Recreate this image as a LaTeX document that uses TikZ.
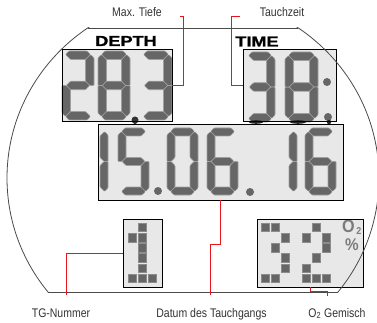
\documentclass[tikz,border=0pt]{standalone}
\usepackage{fontspec}
\setmainfont{Liberation Sans}
\newfontfamily\lblfont{Liberation Sans}[FakeStretch=0.84]
\newfontfamily\hdfont{Liberation Sans}[FakeStretch=1.25,BoldFeatures={FakeBold=1.2}]
\newfontfamily\oxfont{Liberation Sans}[FakeStretch=0.9]
\definecolor{lcdbg}{HTML}{E8E8E8}
\definecolor{segc}{HTML}{666666}
\definecolor{sepc}{HTML}{A0A0A0}
\definecolor{leader}{HTML}{E8141B}
\definecolor{outl}{HTML}{4A4A4A}
\definecolor{o2gray}{HTML}{7C7C7C}
\def\segT{8.5}\def\segC{7}
\newcommand\sga{\path[seg] ({\segC},0) -- ({\segW-\segC},0) -- ({\segW-\segC/2},{\segC/2}) -- ({\segW-\segT},{\segT}) -- ({\segT},{\segT}) -- ({\segC/2},{\segC/2}) -- cycle;}
\newcommand\sgb{\path[seg] ({\segW-\segC/2},{\segC/2}) -- ({\segW},{\segC}) -- ({\segW},{\segM}) -- ({\segW-\segT/2},{\segM}) -- ({\segW-\segT},{\segM-\segT/2}) -- ({\segW-\segT},{\segT}) -- cycle;}
\newcommand\sgc{\path[seg] ({\segW},{\segM}) -- ({\segW},{\segH-\segC}) -- ({\segW-\segC/2},{\segH-\segC/2}) -- ({\segW-\segT},{\segH-\segT}) -- ({\segW-\segT},{\segM+\segT/2}) -- ({\segW-\segT/2},{\segM}) -- cycle;}
\newcommand\sgd{\path[seg] ({\segC/2},{\segH-\segC/2}) -- ({\segT},{\segH-\segT}) -- ({\segW-\segT},{\segH-\segT}) -- ({\segW-\segC/2},{\segH-\segC/2}) -- ({\segW-\segC},{\segH}) -- ({\segC},{\segH}) -- cycle;}
\newcommand\sge{\path[seg] (0,{\segM}) -- ({\segT/2},{\segM}) -- ({\segT},{\segM+\segT/2}) -- ({\segT},{\segH-\segT}) -- ({\segC/2},{\segH-\segC/2}) -- (0,{\segH-\segC}) -- cycle;}
\newcommand\sgf{\path[seg] ({\segC/2},{\segC/2}) -- ({\segT},{\segT}) -- ({\segT},{\segM-\segT/2}) -- ({\segT/2},{\segM}) -- (0,{\segM}) -- (0,{\segC}) -- cycle;}
\newcommand\sgg{\path[seg] ({\segT/2},{\segM}) -- ({\segT},{\segM-\segT/2}) -- ({\segW-\segT},{\segM-\segT/2}) -- ({\segW-\segT/2},{\segM}) -- ({\segW-\segT},{\segM+\segT/2}) -- ({\segT},{\segM+\segT/2}) -- cycle;}
\newcommand\lcddigit[5]{\begin{scope}[shift={(#1,#2)}]\def\segW{#3}\def\segH{#4}\pgfmathsetmacro\segM{#4/2}\foreach \s in {#5}{\csname sg\s\endcsname}\end{scope}}
\begin{document}
\begin{tikzpicture}[x=1pt,y=-1pt,
  lcd/.style={fill=lcdbg, inner sep=0pt, outer sep=0pt},
  frame/.style={draw=black, line width=0.9pt},
  seg/.style={fill=segc, draw=sepc, line width=0.6pt, rounded corners=0.8pt},
  pix/.style={fill=segc, draw=segc!75!white, line width=0.4pt},
  lead/.style={draw=leader, line width=0.9pt},
  lbl/.style={font=\lblfont\fontsize{12.5}{14}\selectfont, text=black!80, inner sep=0pt},
  hd/.style={font=\hdfont\bfseries\fontsize{14.5}{16}\selectfont, inner sep=0pt},
  ox/.style={font=\oxfont\bfseries\fontsize{18}{18}\selectfont, text=o2gray, inner sep=0pt},
  dot/.style={fill=segc}
]
\useasboundingbox (0,0) rectangle (377,323);

% boxes (fill)
\node[lcd, minimum width=110pt, minimum height=72pt] (depth) at (117,85) {};
\node[lcd, minimum width=93pt, minimum height=72pt] (time) at (289.5,85) {};
\node[lcd, minimum width=39pt, minimum height=68pt] (tg) at (142.5,253) {};
\node[lcd, minimum width=106pt, minimum height=68pt] (o2) at (310,253) {};

% headers
\node[hd] (dhd) at (126,41) {DEPTH};
\node[hd] (thd) at (257,41.5) {TIME};

% DEPTH digits 2 8 3
\lcddigit{62}{51}{32}{69}{a,b,g,e,d}
\lcddigit{98}{51}{32}{69}{a,b,c,d,e,f,g}
\lcddigit{140}{51}{32}{69}{a,b,g,c,d}
\fill[black!80] (135,120) circle (3.5);
\fill[black!80] (132.5,122) -- (137.5,122) -- (135,125) -- cycle;

% TIME digits 3 8 :
\lcddigit{245}{52}{30}{70}{a,b,g,c,d}
\lcddigit{285}{52}{33}{70}{a,b,c,d,e,f,g}
\fill[dot] (327,82) circle (4);
\fill[dot] (328,117) circle (4);
\fill[black!85] (256,122) ellipse [x radius=7, y radius=1.8];
\fill[black!85] (298,122) ellipse [x radius=8, y radius=1.8];
\fill[black!85] (329,122) circle (2.2);

\draw[frame] (depth.north west) rectangle (depth.south east);
\draw[frame] (time.north west) rectangle (time.south east);

% date box
\node[lcd, minimum width=245pt, minimum height=76pt] (date) at (220.5,162) {};
\def\segT{8}
\lcddigit{77}{128}{31}{67}{b,c}
\lcddigit{118}{128}{31}{67}{a,f,g,c,d}
\fill[dot] (158,191) circle (4);
\lcddigit{167}{128}{31}{67}{a,b,c,d,e,f}
\lcddigit{207}{128}{31}{67}{a,f,g,e,d,c}
\fill[dot] (250,192) circle (4);
\lcddigit{266}{128}{31}{67}{b,c}
\lcddigit{305}{128}{31}{67}{a,f,g,e,d,c}
\draw[frame] (date.north west) rectangle (date.south east);

% dot matrix TG "1"
\foreach \x/\y in {138/223, 128/233.2, 138/233.2, 138/243.4, 138/253.6, 138/263.8, 128/274, 138/274, 148/274}
  {\path[pix] (\x,\y) rectangle ++(8.5,8.5);}
% dot matrix O2 "32"
\foreach \x/\y in {261/223, 271/223, 281/233.2, 271/243.4, 281/253.6, 281/263.8, 261/274, 271/274,
                   312/223, 302/233.2, 322/233.2, 322/243.4, 312/253.6, 302/263.8, 302/274, 312/274, 322/274}
  {\path[pix] (\x,\y) rectangle ++(8.5,8.5);}
\node[ox] (oxo) at (348.5,226.5) {O};
\node[ox, font=\oxfont\bfseries\fontsize{10}{10}\selectfont] (oxt) at (358.8,231) {2};
\node[ox, font=\oxfont\bfseries\fontsize{17}{17}\selectfont] (oxp) at (352,245) {\%};
\draw[frame] (tg.north west) rectangle (tg.south east);
\draw[frame] (o2.north west) rectangle (o2.south east);

% outline of the case
\begin{scope}
  \clip (0,28) rectangle (377,292);
  \draw[outl, line width=0.8pt] (193,178) ellipse [x radius=186, y radius=182];
\end{scope}
\draw[outl, line width=0.8pt] (87.7,28) -- (298.3,28);
\draw[outl, line width=0.8pt] (48,292) -- (338,292);

% labels
\node[lbl, anchor=base] (lmax) at (137,17) {Max. Tiefe};
\node[lbl, anchor=base] (ltz) at (282,17) {Tauchzeit};
\node[lbl, anchor=base] (ltg) at (61,317) {TG-Nummer};
\node[lbl, anchor=base] (ldat) at (211.5,317) {Datum des Tauchgangs};
\node[lbl, anchor=base] (lo2) at (337,317) {O\textsubscript{2} Gemisch};

\coordinate (cmax) at (180,16);
\coordinate (ctz) at (240,16);
\coordinate (cdat) at (210,295);
\coordinate (ctg) at (66,295);
\coordinate (co2) at (327,296);

\draw[lead] (cmax) -- ++(3,0) |- (depth.east);
\draw[lead] (ctz) -- ++(-9,0) |- (time.west);
\draw[lead] (date.south) -- ++(0,44) -| (cdat);
\draw[lead] (tg.west) -| (ctg);
\draw[lead] (o2.south) -- ++(0,4) -| (co2);
\end{tikzpicture}
\end{document}
